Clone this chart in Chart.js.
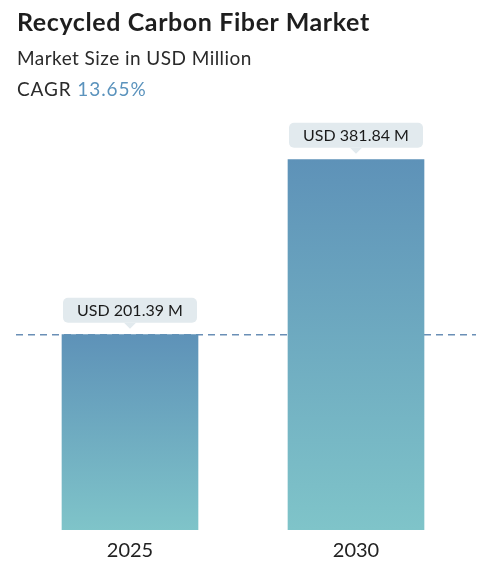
<!DOCTYPE html>
<html><head><meta charset="utf-8">
<script src="https://cdn.jsdelivr.net/npm/chart.js@4"></script>
<style>
html,body{margin:0;padding:0;background:#fff;width:481px;height:573px;overflow:hidden;font-family:Lato,"Noto Sans",sans-serif}
#wrap{position:absolute;left:0;top:0;width:481px;height:573px}
.h{position:absolute;left:17px;white-space:nowrap;color:#1e1e1e}
#t1{top:5px;font-size:25px;font-weight:700;line-height:32px;letter-spacing:0.6px}
#t2{top:45px;font-size:19px;line-height:26px;color:#2a2a2a;letter-spacing:0.45px}
#t3{top:76px;font-size:19px;line-height:26px;color:#2a2a2a;letter-spacing:0.9px}
#t3 span{color:#5b93bd}
</style></head>
<body>
<div id="wrap"><canvas id="c" width="481" height="573"></canvas></div>
<div class="h" id="t1">Recycled Carbon Fiber Market</div>
<div class="h" id="t2">Market Size in USD Million</div>
<div class="h" id="t3">CAGR <span>13.65%</span></div>
<script>
const categories = ["2025", "2030"];
const marketValues = [201.39, 381.84];
const valueLabels = ["USD 201.39 M", "USD 381.84 M"];
const cagrText = "13.65%";

const gradientFill = (ctx) => {
  const chart = ctx.chart;
  const area = chart.chartArea;
  const ys = chart.scales.y;
  if (!area || !ys) return '#6aa3bf';
  const top = ys.getPixelForValue(marketValues[ctx.dataIndex]);
  const bottom = ys.getPixelForValue(0);
  if (!isFinite(top) || !isFinite(bottom) || top === bottom) return '#6aa3bf';
  const g = chart.ctx.createLinearGradient(0, top, 0, bottom);
  g.addColorStop(0, '#5e92b8');
  g.addColorStop(1, '#7fc4c9');
  return g;
};

const labelPlugin = {
  id: 'labels',
  beforeDatasetsDraw(chart) {
    const c = chart.ctx;
    const y = chart.scales.y.getPixelForValue(marketValues[0]);
    c.save();
    c.strokeStyle = '#6a8fb6';
    c.lineWidth = 1.5;
    c.setLineDash([7, 5]);
    c.beginPath();
    c.moveTo(16, y);
    c.lineTo(476, y);
    c.stroke();
    c.restore();
  },
  afterDatasetsDraw(chart) {
    const c = chart.ctx;
    const meta = chart.getDatasetMeta(0);
    c.save();
    c.font = '16px Lato, "Noto Sans", sans-serif';
    meta.data.forEach((el, i) => {
      const w = 134, h = 25;
      const x0 = el.x - w / 2;
      const y1 = el.y - 12;
      const y0 = y1 - h;
      c.fillStyle = '#e2eaee';
      c.beginPath();
      c.roundRect(x0, y0, w, h, 5);
      c.fill();
      c.beginPath();
      c.moveTo(el.x - 6, y1);
      c.lineTo(el.x + 6, y1);
      c.lineTo(el.x, y1 + 6);
      c.closePath();
      c.fill();
      c.fillStyle = '#1a1a1a';
      c.textAlign = 'center';
      c.textBaseline = 'middle';
      c.fillText(valueLabels[i], el.x, y0 + h / 2 + 1);
    });
    c.restore();
  }
};

new Chart(document.getElementById('c'), {
  type: 'bar',
  data: {
    labels: categories,
    datasets: [{
      data: marketValues,
      backgroundColor: gradientFill,
      borderWidth: 0,
      barThickness: 136
    }]
  },
  options: {
    responsive: false,
    animation: false,
    devicePixelRatio: 1,
    layout: { padding: { left: 17, right: 12, top: 100, bottom: 1 } },
    plugins: { legend: { display: false }, tooltip: { enabled: false } },
    scales: {
      x: {
        grid: { display: false, drawTicks: false },
        border: { display: false },
        ticks: { color: '#222', font: { size: 20, family: 'Lato, "Noto Sans", sans-serif' }, padding: 9 }
      },
      y: {
        display: false,
        min: 0,
        max: 443.4
      }
    }
  },
  plugins: [labelPlugin]
});
</script>
</body></html>
